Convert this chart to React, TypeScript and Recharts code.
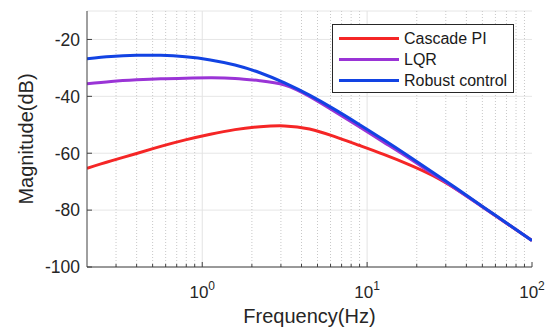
import React from "react";
import {
  LineChart,
  Line,
  XAxis,
  YAxis,
  CartesianGrid,
  ReferenceLine,
  Legend,
} from "recharts";

// frequency points (Hz, ~0.15 decade apart) and magnitude readings (dB)
const freqs = [0.2, 0.28, 0.4, 0.56, 0.79, 1.12, 1.58, 2.24, 3.16, 4.47, 6.31, 8.91, 12.6, 17.8, 25.1, 35.5, 50.1, 70.8, 100];
const cascadePI = [-65.3, -62.7, -60.1, -57.6, -55.3, -53.3, -51.7, -50.7, -50.4, -51.5, -54.1, -57.2, -60.4, -63.9, -67.9, -73.0, -78.8, -84.8, -90.7];
const lqr = [-35.6, -34.8, -34.2, -33.8, -33.6, -33.5, -33.7, -34.5, -36.0, -40.0, -45.2, -50.6, -56.1, -61.6, -67.3, -73.0, -78.9, -84.8, -90.7];
const robust = [-26.8, -26.0, -25.6, -25.6, -26.1, -27.2, -29.0, -31.7, -35.3, -39.6, -44.5, -49.8, -55.3, -61.0, -66.8, -72.7, -78.7, -84.7, -90.7];

const seriesNames = ["Cascade PI", "LQR", "Robust control"];
const seriesKeys = ["cascade", "lqr", "robust"];
const seriesColors = ["#F52626", "#9A34D6", "#1243E3"];

const majorX = [1, 10, 100];
const minorX = [0.3, 0.4, 0.5, 0.6, 0.7, 0.8, 0.9, 2, 3, 4, 5, 6, 7, 8, 9, 20, 30, 40, 50, 60, 70, 80, 90];
const xTicks = [...minorX, ...majorX].sort((a, b) => a - b);
const yTicks = [-100, -80, -60, -40, -20];

const data = freqs.map((f, i) => ({
  f,
  cascade: cascadePI[i],
  lqr: lqr[i],
  robust: robust[i],
}));

const FONT = '"Liberation Sans", Arial, sans-serif';
const AXIS = "#404040";

const BottomTick = (props: any) => {
  const { x, y, payload } = props;
  const major = majorX.includes(payload.value);
  const exp = Math.round(Math.log10(payload.value));
  return (
    <g>
      <line x1={x} x2={x} y1={y} y2={y - (major ? 5 : 3)} stroke={AXIS} />
      {major && (
        <text x={x} y={y + 31} textAnchor="middle" fill="#262626" fontSize={17} fontFamily={FONT}>
          <tspan>10</tspan>
          <tspan dy={-8} fontSize={12}>{exp}</tspan>
        </text>
      )}
    </g>
  );
};

const TopTick = (props: any) => {
  const { x, y, payload } = props;
  const major = majorX.includes(payload.value);
  return <line x1={x} x2={x} y1={y} y2={y + (major ? 5 : 3)} stroke={AXIS} />;
};

const LeftTick = (props: any) => {
  const { x, y, payload } = props;
  return (
    <g>
      <line x1={x} x2={x + 5} y1={y} y2={y} stroke={AXIS} />
      <text x={x - 7} y={y} dy="0.36em" textAnchor="end" fill="#262626" fontSize={17.5} fontFamily={FONT}>
        {payload.value}
      </text>
    </g>
  );
};

const RightTick = (props: any) => {
  const { x, y } = props;
  return <line x1={x} x2={x - 5} y1={y} y2={y} stroke={AXIS} />;
};

const LegendBox = () => (
  <div
    style={{
      border: "1px solid #262626",
      background: "#fff",
      padding: "3px 0 0 6px",
      width: 174,
      height: 64,
      boxSizing: "content-box",
      fontFamily: FONT,
      fontSize: 16,
      color: "#1a1a1a",
    }}
  >
    {seriesNames.map((name, i) => (
      <div key={name} style={{ display: "flex", alignItems: "center", height: 21 }}>
        <div style={{ width: 60, height: 3, background: seriesColors[i], marginRight: 5 }} />
        <span>{name}</span>
      </div>
    ))}
  </div>
);

export default function App() {
  return (
    <div style={{ position: "absolute", left: 0, top: 0, background: "#fff" }}>
      <LineChart width={555} height={330} data={data} margin={{ top: 11, right: 23, left: 0, bottom: 0 }}>
        <CartesianGrid vertical={false} stroke="#e6e6e6" />
        {minorX.map((v) => (
          <ReferenceLine key={"m" + v} x={v} stroke="#c8c8c8" strokeDasharray="1 2" />
        ))}
        {majorX.slice(0, 2).map((v) => (
          <ReferenceLine key={"M" + v} x={v} stroke="#e3e3e3" />
        ))}
        <XAxis
          dataKey="f"
          type="number"
          scale="log"
          domain={[0.2, 100]}
          allowDataOverflow
          ticks={xTicks}
          interval={0}
          tickSize={0}
          tickMargin={0}
          tickLine={false}
          tick={<BottomTick />}
          height={63}
          axisLine={{ stroke: AXIS }}
          label={{ value: "Frequency(Hz)", position: "insideBottom", offset: 7, fill: "#262626", fontSize: 20, fontFamily: FONT }}
        />
        <XAxis
          xAxisId="top"
          orientation="top"
          dataKey="f"
          type="number"
          scale="log"
          domain={[0.2, 100]}
          allowDataOverflow
          ticks={xTicks}
          interval={0}
          tickSize={0}
          tickMargin={0}
          tickLine={false}
          tick={<TopTick />}
          height={0}
          axisLine={{ stroke: AXIS }}
        />
        <YAxis
          type="number"
          domain={[-100, -10]}
          allowDataOverflow
          ticks={yTicks}
          interval={0}
          tickSize={0}
          tickMargin={0}
          tickLine={false}
          tick={<LeftTick />}
          width={87}
          axisLine={{ stroke: AXIS }}
          label={{
            content: () => (
              <text
                x={33}
                y={139}
                transform="rotate(-90 33 139)"
                textAnchor="middle"
                fill="#262626"
                fontSize={20}
                fontFamily={FONT}
              >
                Magnitude(dB)
              </text>
            ),
          }}
        />
        <YAxis
          yAxisId="right"
          orientation="right"
          type="number"
          domain={[-100, -10]}
          allowDataOverflow
          ticks={yTicks}
          interval={0}
          tickSize={0}
          tickMargin={0}
          tickLine={false}
          tick={<RightTick />}
          width={0}
          axisLine={{ stroke: AXIS }}
        />
        <Legend
          verticalAlign="middle"
          content={<LegendBox />}
          wrapperStyle={{ left: 332, top: 24, width: 182, height: 69 }}
        />
        {seriesKeys.map((k, i) => (
          <Line
            key={k}
            type="natural"
            dataKey={k}
            name={seriesNames[i]}
            stroke={seriesColors[i]}
            strokeWidth={3}
            dot={false}
            isAnimationActive={false}
          />
        ))}
      </LineChart>
    </div>
  );
}
